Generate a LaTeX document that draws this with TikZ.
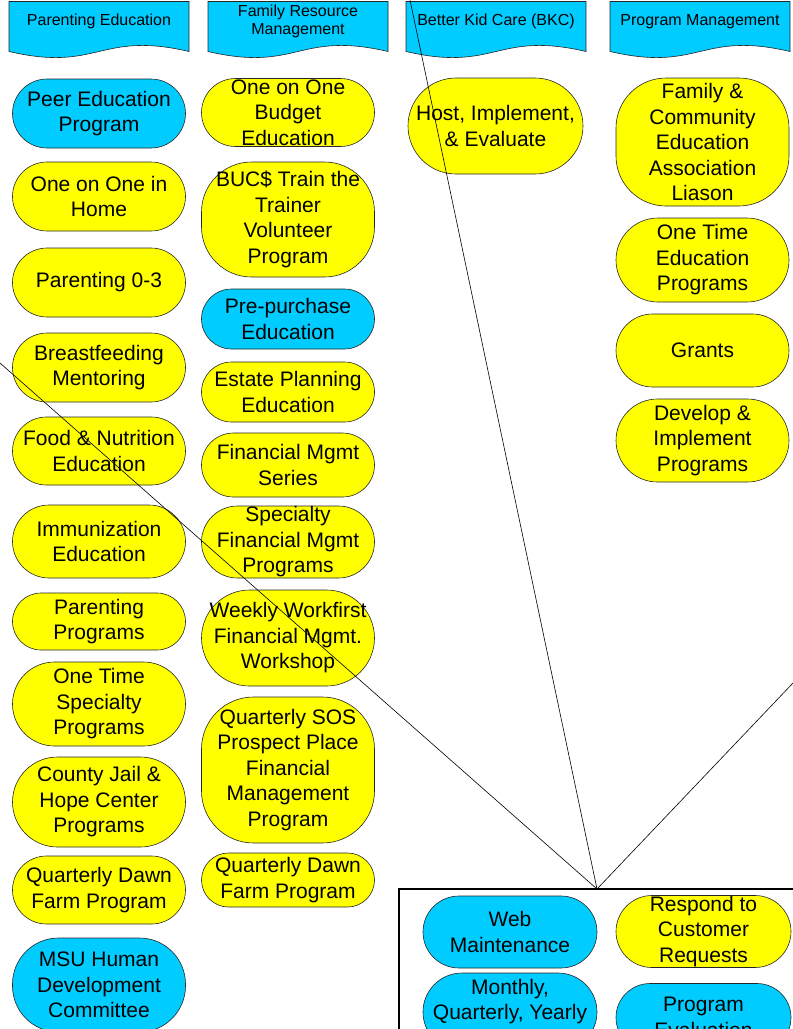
\documentclass[tikz,border=0pt]{standalone}
\usepackage{fontspec}
\setmainfont{Liberation Sans}
\definecolor{kidcyan}{HTML}{00CCFF}
\definecolor{kidyellow}{HTML}{FFFF00}
\newcommand\nodefont{\fontsize{21}{25.5}\selectfont}
\newcommand\hdrfont{\fontsize{16}{18}\selectfont}

\begin{document}
\begin{tikzpicture}[x=1pt, y=-1pt,
  pill/.style={draw=black!85, line width=.6pt, minimum width=173pt, inner sep=0pt, align=center, font=\nodefont},
  yel/.style={pill, fill=kidyellow},
  cyn/.style={pill, fill=kidcyan},
  boxh/.style={minimum height=#1, rounded corners=.5*#1},
  hdr/.style={draw=black!85, line width=.6pt, fill=kidcyan},
  hdrtext/.style={align=center, font=\hdrfont, inner sep=0pt},
  spoke/.style={line width=.6pt}]

\useasboundingbox (0,0) rectangle (793,1029);
\clip (0,0) rectangle (793,1029);

\foreach \x/\nm/\txt in {9/hdrPE/{Parenting Education}, 208/hdrFRM/{Family Resource\\Management},
                         406/hdrBKC/{Better Kid Care (BKC)}, 610/hdrPM/{Program Management}} {
  \draw[hdr] (\x,1.5) -- (\x+180,1.5) -- (\x+180,51.5) .. controls (\x+90,30.5) and (\x+90,72.5) .. (\x,51.5) -- cycle;
  \node[hdrtext] (\nm) at (\x+90,21.5) {\txt};
}

\node[cyn, boxh=69pt] (peEdPeer)   at (99,113.5) {Peer Education\\Program};
\node[yel, boxh=69pt] (peEdHome)   at (99,196.5) {One on One in\\Home};
\node[yel, boxh=69pt] (peEdZero)   at (99,282.5) {Parenting 0-3};
\node[yel, boxh=69pt] (peEdBreast) at (99,367.5) {Breastfeeding\\Mentoring};
\node[yel, boxh=68pt] (peEdFood)   at (99,451) {Food \& Nutrition\\Education};
\node[yel, boxh=73pt] (peEdImmun)  at (99,541.5) {Immunization\\Education};
\node[yel, boxh=57pt] (peEdProg)   at (99,621.5) {Parenting\\Programs};
\node[yel, boxh=84pt] (peEdSpec)   at (99,704) {One Time\\Specialty\\Programs};
\node[yel, boxh=90pt] (peEdJail)   at (99,802) {County Jail \&\\Hope Center\\Programs};
\node[yel, boxh=68pt] (peEdDawn)   at (99,890) {Quarterly Dawn\\Farm Program};
\node[cyn, boxh=94pt, rounded corners=46pt] (peEdMSU) at (99,985) {MSU Human\\Development\\Committee};

\node[yel, boxh=68pt] (frmBudget) at (288,112.5) {One on One\\Budget\\Education};
\node[yel, boxh=115pt, rounded corners=50pt] (frmBucs) at (288,219.5) {BUC\$ Train the\\Trainer\\Volunteer\\Program};
\node[cyn, boxh=60pt] (frmPre)    at (288,319) {Pre-purchase\\Education};
\node[yel, boxh=60pt] (frmEstate) at (288,392) {Estate Planning\\Education};
\node[yel, boxh=64pt] (frmSeries) at (288,465) {Financial Mgmt\\Series};
\node[yel, boxh=72pt] (frmSpec)   at (288,542) {Specialty\\Financial Mgmt\\Programs};
\node[yel, boxh=96pt] (frmWeekly) at (288,638) {Weekly Workfirst\\Financial Mgmt.\\Workshop};
\node[yel, boxh=146pt, rounded corners=52pt] (frmSOS) at (288,770) {Quarterly SOS\\Prospect Place\\Financial\\Management\\Program};
\node[yel, boxh=54pt] (frmDawn)   at (288,880) {Quarterly Dawn\\Farm Program};

\node[yel, boxh=96pt, minimum width=175pt] (bkcHost) at (495.5,126) {Host, Implement,\\\& Evaluate};

\node[yel, boxh=128pt, rounded corners=50pt] (pmFCE) at (702.5,142) {Family \&\\Community\\Education\\Association\\Liason};
\node[yel, boxh=84pt] (pmOneTime) at (702.5,260) {One Time\\Education\\Programs};
\node[yel, boxh=73pt] (pmGrants)  at (702.5,350.5) {Grants};
\node[yel, boxh=83pt] (pmDevelop) at (702.5,440.5) {Develop \&\\Implement\\Programs};

\node[draw, line width=2.5pt, outer sep=0pt, minimum width=396pt, minimum height=220pt, anchor=north west] (hubBox) at (399,889) {};
\node[cyn, boxh=72pt, minimum width=174pt] (webMaint) at (510,932) {Web\\Maintenance};
\node[yel, boxh=72pt, minimum width=175pt] (custReq)  at (703.5,931.5) {Respond to\\Customer\\Requests};
\node[cyn, boxh=78pt, minimum width=174pt] (reports)  at (510,1012) {Monthly,\\Quarterly, Yearly\\\mbox{}};
\node[cyn, boxh=68pt, minimum width=175pt] (progEval) at (703.5,1017.5) {Program\\Evaluation};

\coordinate (farL) at (-10,354.2);
\coordinate (farT) at (407.9,-10);
\coordinate (farR) at (803,672.5);
\draw[spoke] (hubBox.north) -- (farL) (hubBox.north) -- (farT) (hubBox.north) -- (farR);
\end{tikzpicture}
\end{document}
